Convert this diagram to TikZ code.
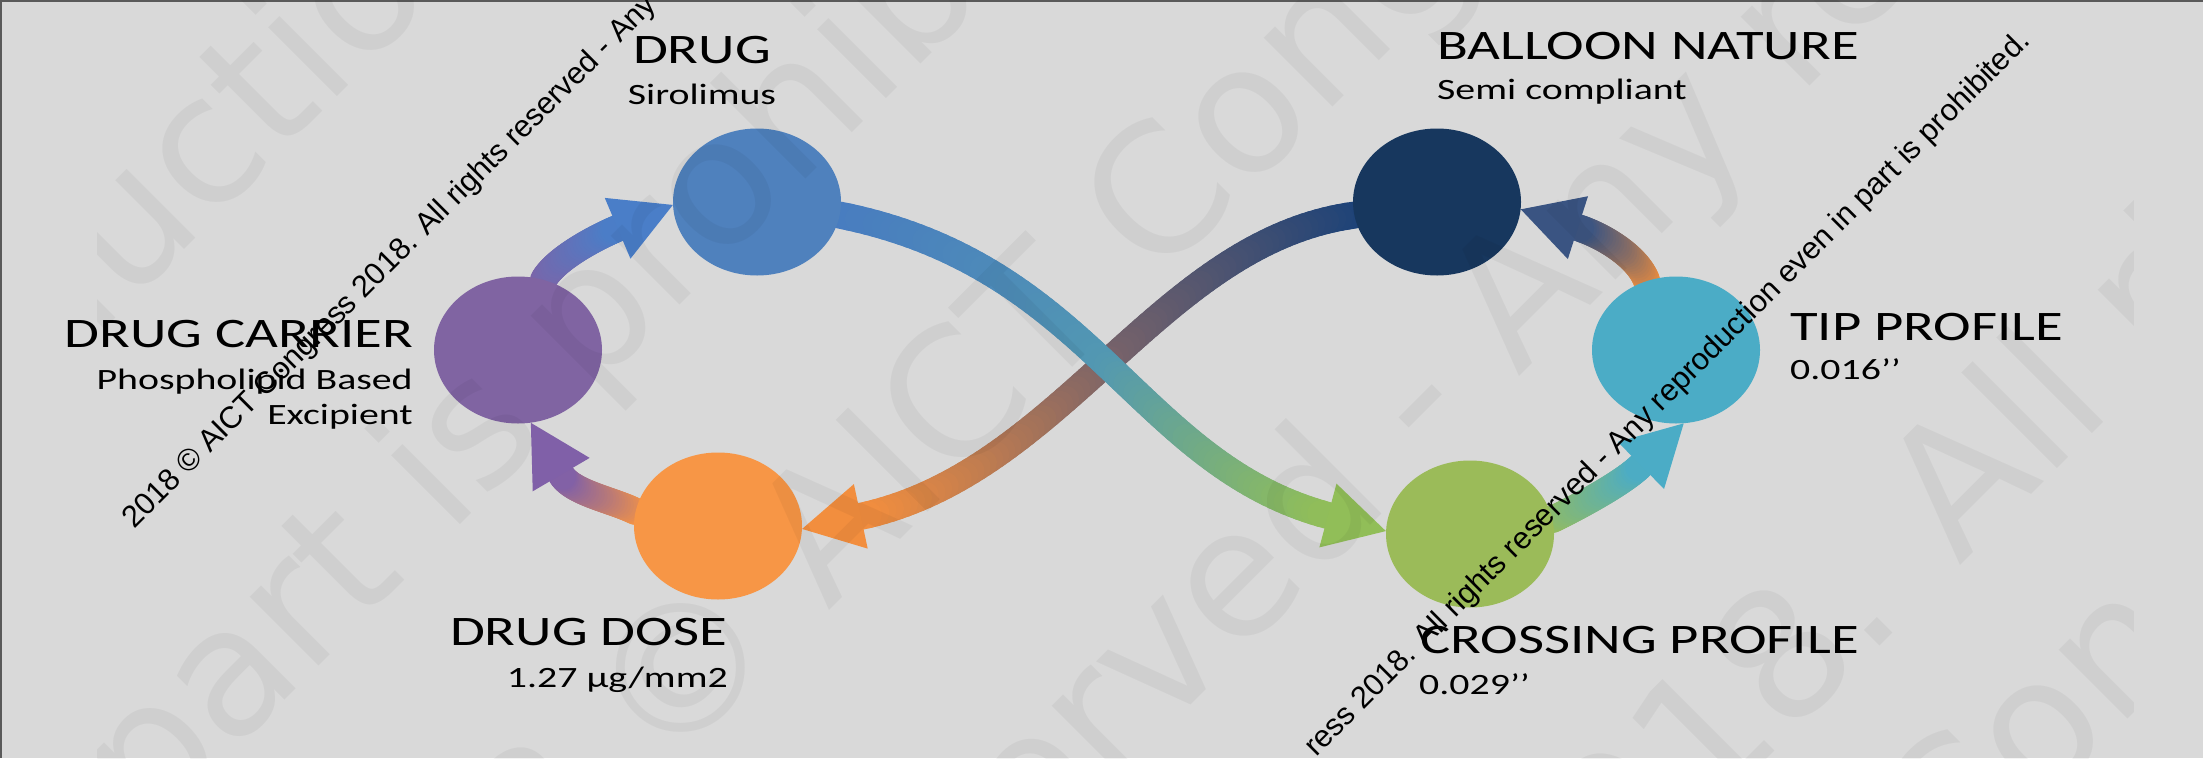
\documentclass[tikz,border=0pt]{standalone}
\usepackage{fontspec}
\usetikzlibrary{shapes.geometric,calc}
\newfontfamily\labfont{Carlito}[FakeStretch=1.35]
\newfontfamily\wmfont{Liberation Sans}
\newfontfamily\bigwm{DejaVu Sans}
\definecolor{bgc}{RGB}{217,217,217}
\definecolor{framec}{RGB}{90,90,90}
\definecolor{cBlue}{RGB}{79,129,189}
\definecolor{cPurple}{RGB}{128,100,162}
\definecolor{cOrange}{RGB}{247,150,70}
\definecolor{cNavy}{RGB}{23,55,94}
\definecolor{cAqua}{RGB}{75,172,198}
\definecolor{cGreen}{RGB}{155,187,89}
% arrow gradient colours
\definecolor{a1A}{RGB}{124,100,168}\definecolor{a1B}{RGB}{74,126,200}\colorlet{a1M}{a1A!50!a1B}
\definecolor{a2A}{RGB}{245,148,68}\definecolor{a2B}{RGB}{128,96,168}\colorlet{a2M}{a2A!45!a2B}
\definecolor{a3A}{RGB}{72,124,192}\definecolor{a3M}{RGB}{82,152,178}\definecolor{a3B}{RGB}{145,190,88}
\definecolor{a4A}{RGB}{28,66,120}\definecolor{a4M}{RGB}{118,98,106}\definecolor{a4B}{RGB}{242,142,62}
\definecolor{a5A}{RGB}{150,188,92}\definecolor{a5B}{RGB}{75,172,198}\colorlet{a5M}{a5A!50!a5B}
\definecolor{a6A}{RGB}{240,142,60}\definecolor{a6B}{RGB}{58,84,130}\colorlet{a6M}{a6A!45!a6B}
\pgfdeclarelayer{back}\pgfdeclarelayer{mid}\pgfsetlayers{back,mid,main}
\def\headlen{60pt}
\def\headhw{33pt}
\tikzset{
  bubble/.style={ellipse, minimum width=168pt, minimum height=147pt, inner sep=0pt, draw=none},
  title/.style={font=\labfont\fontsize{42}{50}\selectfont, inner sep=0pt, text=black},
  sub/.style={font=\labfont\fontsize{29.5}{35}\selectfont, inner sep=0pt, text=black},
  wmark/.style={font=\wmfont\fontsize{30.7}{36}\selectfont, rotate=45, anchor=base west, inner sep=0pt, text=black},
  faint/.style={font=\bigwm\fontsize{178}{178}\selectfont, rotate=45, anchor=base west, inner sep=0pt, text=black, text opacity=0.045},
  shaft/.style={line width=27pt, line cap=round},
}
% #1 start, #2 control 1, #3 control 2, #4 tip, #5 #6 #7 colours, #8 segments
\newcommand\GArrow[8]{%
  \coordinate (gaS) at #1;
  \coordinate (gaCa) at #2;
  \coordinate (gaCb) at #3;
  \coordinate (gaT) at #4;
  \coordinate (gaB) at ($(gaT)!\headlen!(gaCb)$);
  \foreach \i in {1,...,#8}{%
    \pgfmathsetmacro\ta{(\i-1)/#8}%
    \pgfmathsetmacro\tb{\i/#8}%
    \pgfmathtruncatemacro\pc{200*(\i-0.5)/#8}%
    \ifnum\pc<100 \def\segcol{#6!\pc!#5}\else\pgfmathtruncatemacro\pd{\pc-100}\def\segcol{#7!\pd!#6}\fi
    \path (gaS) .. controls (gaCa) and (gaCb) .. (gaB) coordinate[pos=\ta] (gaP) coordinate[pos=\tb] (gaQ);
    \draw[shaft, draw=\segcol] (gaP) -- (gaQ);
  }%
  \fill[#7] (gaT) -- ($(gaB)!\headhw!90:(gaT)$) -- ($(gaB)!\headhw!-90:(gaT)$) -- cycle;
}
\begin{document}
\begin{tikzpicture}[x=1pt,y=-1pt]
\useasboundingbox (0,0) rectangle (2203,758);
\begin{pgfonlayer}{back}
  \fill[bgc] (0,0) rectangle (2203,758);
  \draw[framec, line width=4pt] (0,758) -- (0,0) -- (2203,0);
\end{pgfonlayer}

% circles
\node[bubble, fill=cBlue] (drug) at (757,202) {};
\node[bubble, fill=cPurple] (carrier) at (518,350) {};
\node[bubble, fill=cOrange] (dose) at (718,526) {};
\node[bubble, fill=cNavy] (balloon) at (1437,202) {};
\node[bubble, fill=cAqua] (tipn) at (1676,350) {};
\node[bubble, fill=cGreen] (crossn) at (1470,534) {};

% arrows
\begin{pgfonlayer}{mid}
  \GArrow{(balloon.189)}{(1159,242)}{(1063,473)}{(dose.-2)}{a4A}{a4M}{a4B}{80}
  \GArrow{(drug.-9)}{(1094,266)}{(1136,464)}{(crossn.178)}{a3A}{a3M}{a3B}{80}
  \GArrow{(carrier.70)}{(556,258)}{(597,237)}{(drug.182)}{a1A}{a1M}{a1B}{30}
  \GArrow{(dose.170)}{(613,500)}{(572,493)}{(carrier.280)}{a2A}{a2M}{a2B}{30}
  \GArrow{(crossn.10)}{(1574,509)}{(1622,484)}{(tipn.-84)}{a5A}{a5M}{a5B}{30}
  \GArrow{(tipn.113)}{(1638,257)}{(1604,236)}{(balloon.-5)}{a6A}{a6M}{a6B}{30}
\end{pgfonlayer}

% labels
\node[title, anchor=base] (drugT) at (702,63) {DRUG};
\node[sub, anchor=base] (drugS) at (702,104) {Sirolimus};
\node[title, anchor=base west] (balT) at (1437,59) {BALLOON NATURE};
\node[sub, anchor=base west] (balS) at (1437,99) {Semi compliant};
\node[title, anchor=base east] (carT) at (413,347) {DRUG CARRIER};
\node[sub, anchor=base east] (carS1) at (413,389) {Phospholipid Based};
\node[sub, anchor=base east] (carS2) at (413,424) {Excipient};
\node[title, anchor=base west] (tipT) at (1790,340) {TIP PROFILE};
\node[sub, anchor=base west] (tipS) at (1790,379) {0.016’’};
\node[title, anchor=base east] (doseT) at (727,645) {DRUG DOSE};
\node[sub, anchor=base east] (doseS) at (728,687) {1.27 µg/mm2};
\node[title, anchor=base west] (crsT) at (1420,653) {CROSSING PROFILE};
\node[sub, anchor=base west] (crsS) at (1419,694) {0.029’’};

% faint watermark
\begin{scope}
  \clip (97,0) rectangle (2133,758);
  \node[faint] (f1) at (-285,719) {reproduction};
  \node[faint] (f2) at (150,835) {part is prohibited};
  \node[faint] (f3) at (543,897) {8 © AICT Congress};
  \node[faint] (f4) at (840,1056) {reserved - Any reproduction};
  \node[faint] (f5) at (1546,980) {2018. All rights};
  \node[faint] (f6) at (1951,896) {Congress};
\end{scope}

% black watermark
\node[wmark] (wm1) at (134,530) {2018 © AICT Congress 2018. All rights reserved - Any};
\node[wmark] (wm2) at (1316,758) {ress 2018. All rights reserved - Any reproduction even in part is prohibited.};
\end{tikzpicture}
\end{document}
